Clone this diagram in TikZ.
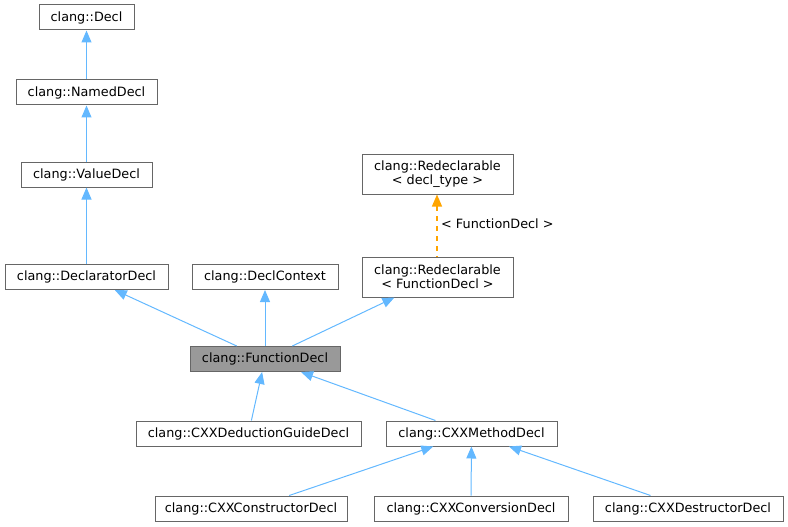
\documentclass[tikz,border=0pt]{standalone}
\usepackage{fontspec}
\setmainfont{DejaVu Sans}
\usetikzlibrary{arrows.meta}
\definecolor{edgeblue}{HTML}{63B8FF}
\definecolor{boxgray}{HTML}{666666}
\definecolor{fdgray}{HTML}{999999}
\definecolor{tmplorange}{HTML}{FFA500}
\begin{document}
\begin{tikzpicture}[x=1pt,y=-1pt,
  box/.style={draw=boxgray, line width=1pt, fill=white, inner sep=0pt,
    minimum height=25pt, font=\fontsize{12.8}{15}\selectfont, align=center},
  inh/.style={draw=edgeblue, line width=1pt,
    {Triangle[width=10pt,length=12pt,fill=edgeblue]}-},
  tmpl/.style={draw=tmplorange, line width=1.3pt, dash pattern=on 5pt off 5pt,
    {Triangle[width=10pt,length=12pt,fill=tmplorange]}-},
  lbl/.style={font=\fontsize{12.8}{15}\selectfont, inner sep=0pt}]
\useasboundingbox (0,0) rectangle (788,527);

\node[box, minimum width=95pt] (decl) at (86.5,17.5) {clang::Decl};
\node[box, minimum width=141pt] (named) at (86.5,92.5) {clang::NamedDecl};
\node[box, minimum width=131pt] (value) at (86.5,174.5) {clang::ValueDecl};
\node[box, minimum width=163pt] (declarator) at (86.5,277) {clang::DeclaratorDecl};
\node[box, minimum width=146pt] (context) at (265,277) {clang::DeclContext};
\node[box, minimum width=151pt, minimum height=40pt] (redeclT) at (437.5,174) {clang::Redeclarable\\[-1pt]< decl\_type >};
\node[box, minimum width=151pt, minimum height=40pt] (redeclF) at (437.5,277) {clang::Redeclarable\\[-1pt]< FunctionDecl >};
\node[box, minimum width=150pt, fill=fdgray] (func) at (265,359) {clang::FunctionDecl};
\node[box, minimum width=225pt] (guide) at (248.5,433.5) {clang::CXXDeductionGuideDecl};
\node[box, minimum width=171pt] (method) at (471.5,433.5) {clang::CXXMethodDecl};
\node[box, minimum width=192pt] (ctor) at (251,508.5) {clang::CXXConstructorDecl};
\node[box, minimum width=194pt] (conv) at (471,508.5) {clang::CXXConversionDecl};
\node[box, minimum width=190pt] (dtor) at (688,508.5) {clang::CXXDestructorDecl};

\draw[inh] (decl) -- (named);
\draw[inh] (named) -- (value);
\draw[inh] (value) -- (declarator);
\draw[inh] (declarator) -- (func);
\draw[inh] (context) -- (func);
\draw[inh] (redeclF) -- (func);
\draw[tmpl] ([xshift=-0.5pt]redeclT.south) -- ([xshift=-0.5pt]redeclF.north);
\node[lbl, anchor=west] (tlabel) at (441,224) {< FunctionDecl >};
\draw[inh] (func) -- (guide);
\draw[inh] (func) -- (method);
\draw[inh] (method) -- (ctor);
\draw[inh] (method) -- (conv);
\draw[inh] (method) -- (dtor);
\end{tikzpicture}
\end{document}
